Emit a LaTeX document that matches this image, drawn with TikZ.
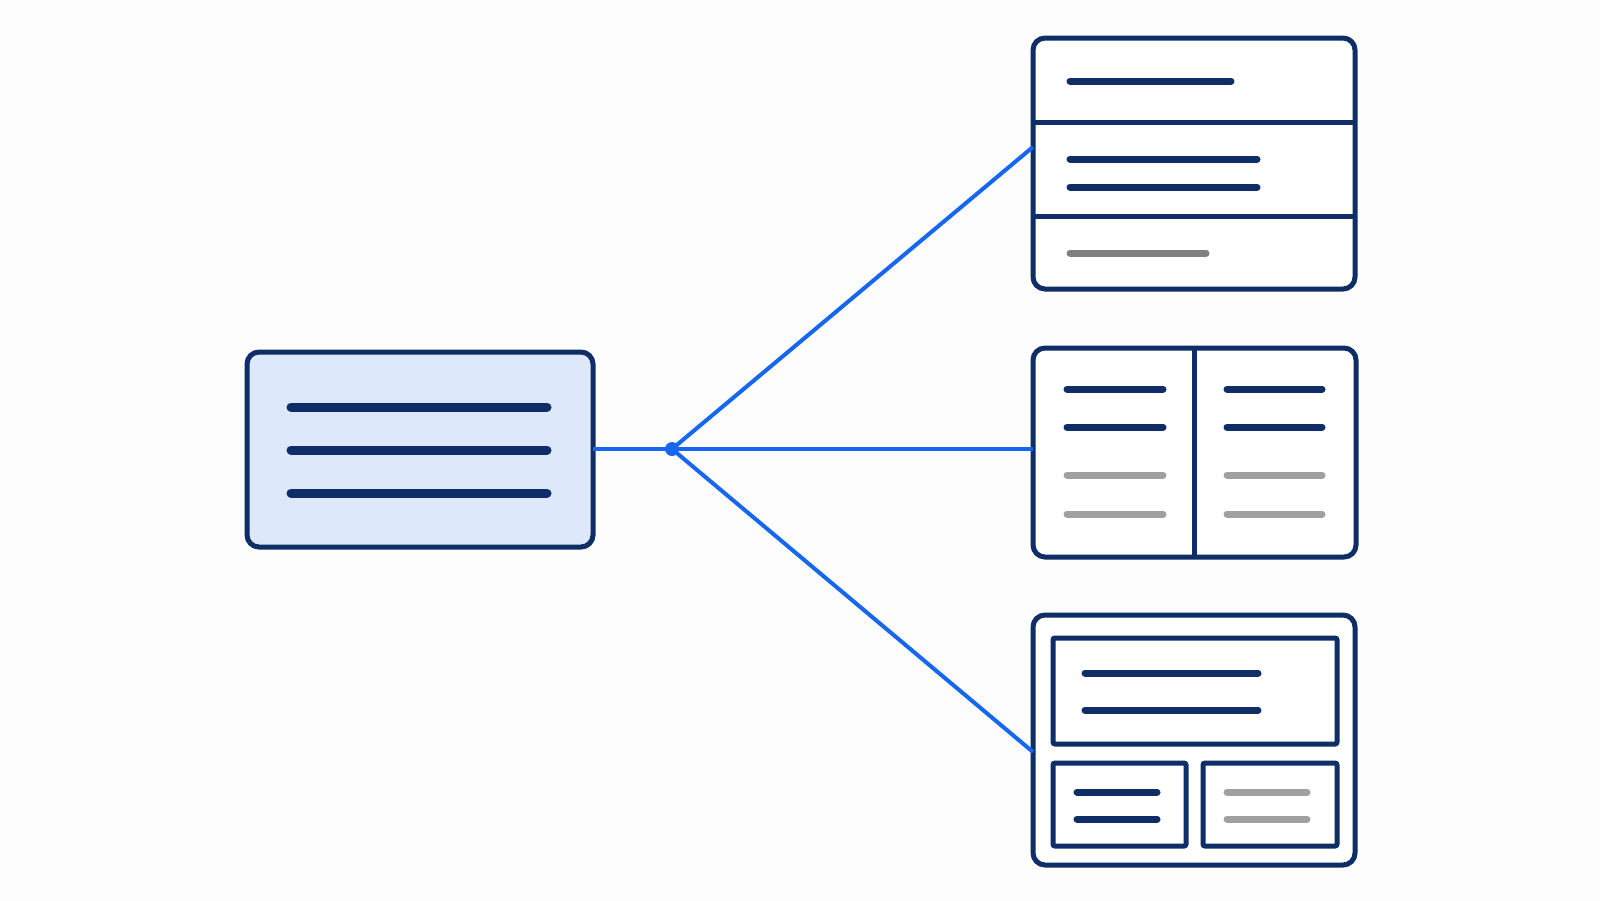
\documentclass[tikz,border=0pt]{standalone}
\usetikzlibrary{calc}
\definecolor{navy}{HTML}{0F2D66}
\definecolor{linkblue}{HTML}{1667F0}
\definecolor{srcfill}{HTML}{DDE8FA}
\definecolor{graydark}{HTML}{808080}
\definecolor{graylight}{HTML}{A0A0A0}
\definecolor{bg}{HTML}{FDFDFD}
\begin{document}
\begin{tikzpicture}[x=0.5pt,y=-0.5pt,
  panel/.style={draw=navy, line width=2.5pt, rounded corners=6pt, fill=white, inner sep=0pt, outer sep=0pt},
  srcbox/.style={panel, fill=srcfill},
  divider/.style={draw=navy, line width=2.5pt},
  inner box/.style={draw=navy, line width=2.5pt, rounded corners=1pt},
  bar/.style={draw=navy, line width=3.5pt, line cap=round},
  bigbar/.style={draw=navy, line width=4.5pt, line cap=round},
  graybar/.style={draw=graydark, line width=3.5pt, line cap=round},
  lightbar/.style={draw=graylight, line width=3.5pt, line cap=round},
  link/.style={draw=linkblue, line width=2pt}]
\fill[bg] (0,0) rectangle (1600,900);
\useasboundingbox (0,0) rectangle (1600,900);

% nodes
\node[srcbox, minimum width=173pt, minimum height=97.5pt] (src) at (420,449.5) {};
\node[panel, minimum width=161pt, minimum height=125.5pt] (top) at (1194,163.5) {};
\node[panel, minimum width=161.5pt, minimum height=104.5pt] (mid) at (1194.5,452.5) {};
\node[panel, minimum width=161pt, minimum height=125pt] (bot) at (1194,740) {};
\coordinate (j) at (672,449);

% connectors
\draw[link] (src.east |- j) -- (j);
\draw[link] (j) -- ($(top.north west)!0.434!(top.south west)$);
\draw[link] (j) -- (j -| mid.west);
\draw[link] (j) -- ($(bot.north west)!0.548!(bot.south west)$);
\fill[linkblue] (j) circle (3.5pt);

% source content
\draw[bigbar] (291,407) -- (547,407);
\draw[bigbar] (291,450) -- (547,450);
\draw[bigbar] (291,493) -- (547,493);

% top panel content
\draw[divider] (top.west |- 0,122) -- (top.east |- 0,122);
\draw[divider] (top.west |- 0,216) -- (top.east |- 0,216);
\draw[bar] (1070,81) -- (1231,81);
\draw[bar] (1070,159) -- (1257,159);
\draw[bar] (1070,187) -- (1257,187);
\draw[graybar] (1070,253) -- (1206,253);

% middle panel content
\draw[divider] (mid.north -| 1194,0) -- (mid.south -| 1194,0);
\foreach \xa/\xb in {1067/1163, 1227/1322}{
  \draw[bar] (\xa,389) -- (\xb,389);
  \draw[bar] (\xa,427) -- (\xb,427);
  \draw[lightbar] (\xa,475) -- (\xb,475);
  \draw[lightbar] (\xa,514) -- (\xb,514);
}

% bottom panel content
\draw[inner box] (1053,638) rectangle (1337,744);
\draw[inner box] (1053,763) rectangle (1186,846);
\draw[inner box] (1203,763) rectangle (1337,846);
\draw[bar] (1085,673) -- (1258,673);
\draw[bar] (1085,710) -- (1258,710);
\draw[bar] (1077,792) -- (1157,792);
\draw[bar] (1077,819) -- (1157,819);
\draw[lightbar] (1227,792) -- (1307,792);
\draw[lightbar] (1227,819) -- (1307,819);
\end{tikzpicture}
\end{document}
